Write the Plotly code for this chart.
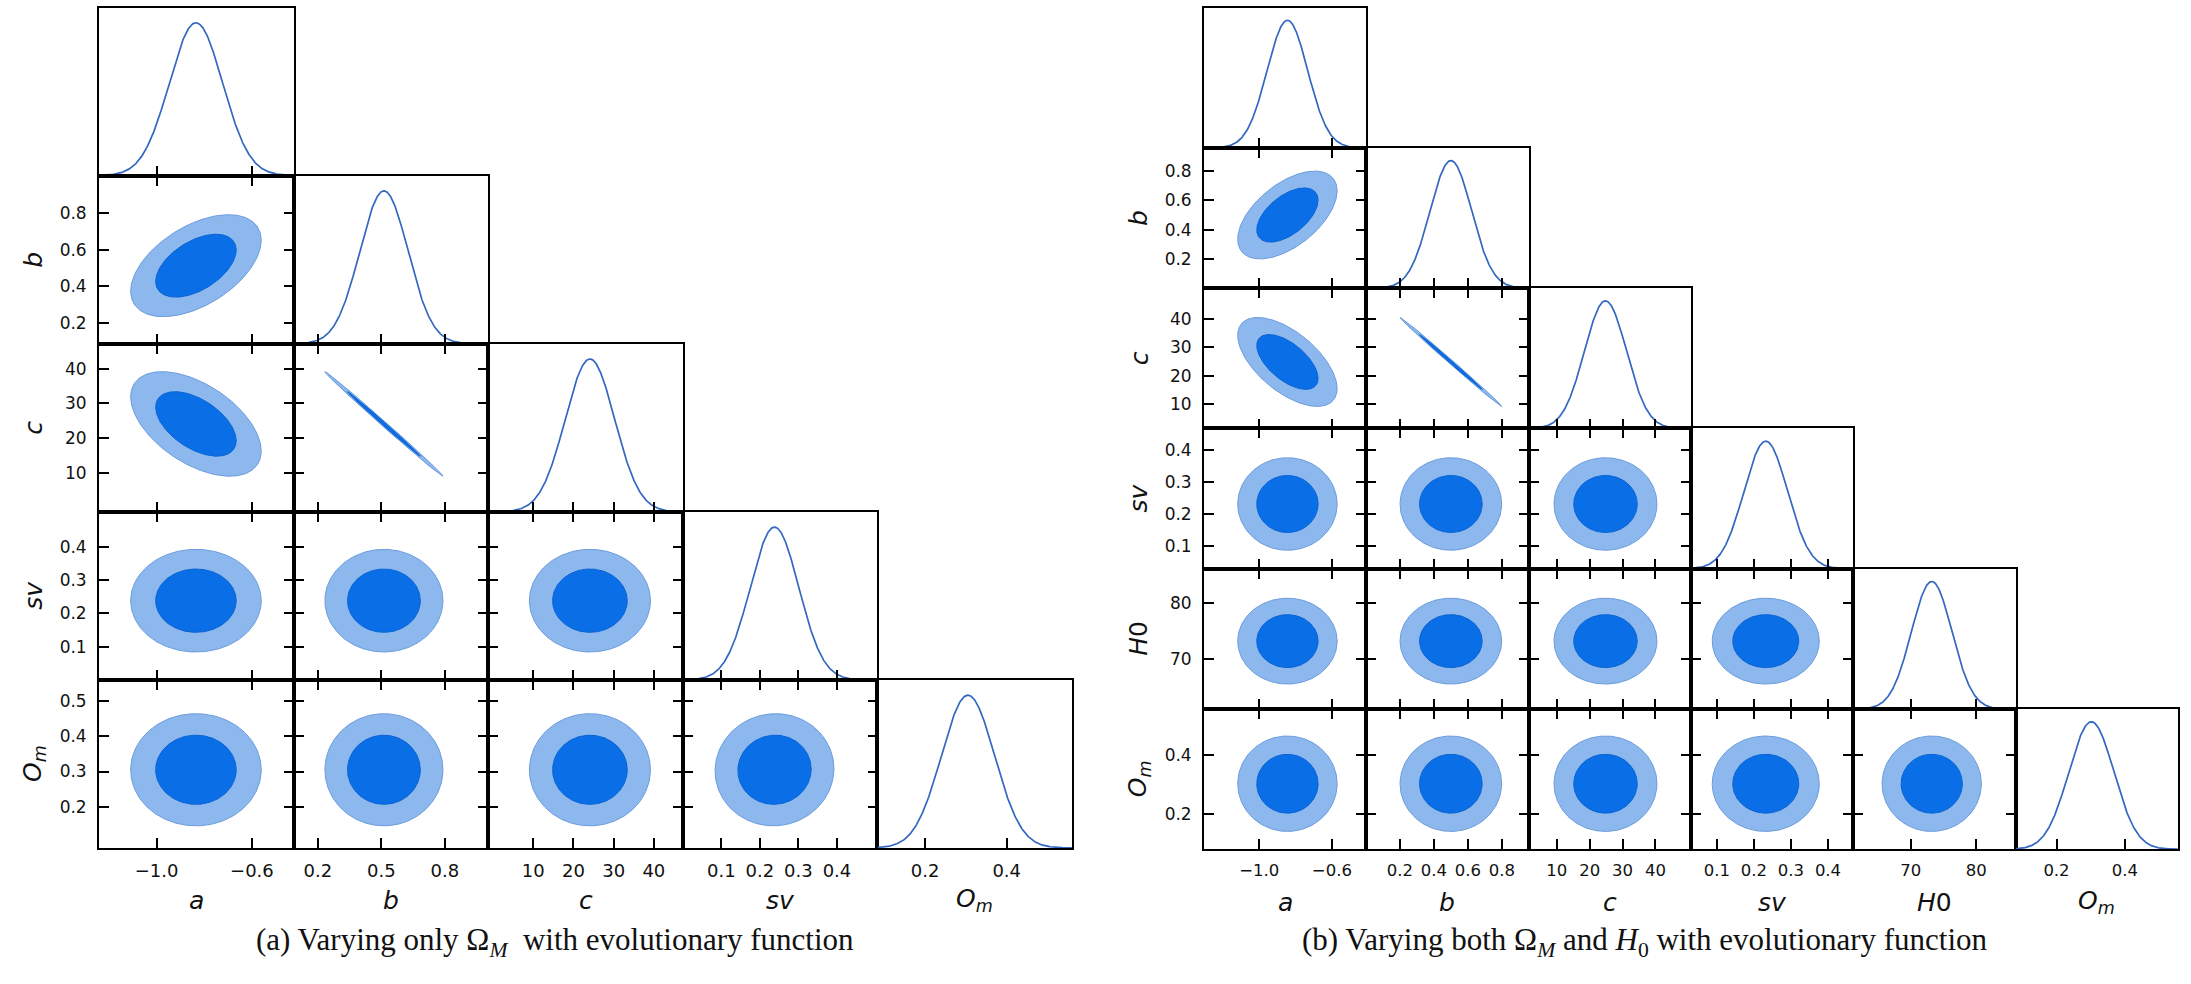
import numpy as np
import plotly.graph_objects as go

W, H = 2191, 984

# ---------------- posterior summaries: (a) varying only Omega_M ----------------
names_a = ["a", "b", "c", "sv", "Om"]
labels_a = ["<i>a</i>", "<i>b</i>", "<i>c</i>", "<i>sv</i>", "<i>O<sub>m</sub></i>"]
mean_a = [-0.835, 0.512, 24.1, 0.238, 0.305]
sigma_a = [0.112, 0.114, 6.15, 0.063, 0.065]
range_a = [[-1.242, -0.425], [0.085, 1.005], [-1.2, 47.2], [0.0, 0.505], [0.083, 0.560]]
xticks_a = [[-1.0, -0.6], [0.2, 0.5, 0.8], [10, 20, 30, 40], [0.1, 0.2, 0.3, 0.4], [0.2, 0.4]]
yticks_a = [[-1.0, -0.6], [0.2, 0.4, 0.6, 0.8], [10, 20, 30, 40], [0.1, 0.2, 0.3, 0.4], [0.2, 0.3, 0.4, 0.5]]
corr_a = {("a", "b"): 0.50, ("a", "c"): -0.52, ("b", "c"): -0.998,
          ("a", "sv"): 0.0, ("b", "sv"): 0.0, ("c", "sv"): 0.0,
          ("a", "Om"): 0.0, ("b", "Om"): 0.0, ("c", "Om"): 0.0, ("sv", "Om"): 0.02}

# ---------------- posterior summaries: (b) varying Omega_M and H0 ----------------
names_b = ["a", "b", "c", "sv", "H0", "Om"]
labels_b = ["<i>a</i>", "<i>b</i>", "<i>c</i>", "<i>sv</i>", "<i>H</i>0", "<i>O<sub>m</sub></i>"]
mean_b = [-0.845, 0.500, 24.8, 0.232, 73.2, 0.302]
sigma_b = [0.112, 0.122, 6.4, 0.059, 3.1, 0.066]
range_b = [[-1.305, -0.410], [0.003, 0.957], [1.4, 50.8], [0.030, 0.468], [61.2, 86.0], [0.080, 0.555]]
xticks_b = [[-1.0, -0.6], [0.2, 0.4, 0.6, 0.8], [10, 20, 30, 40], [0.1, 0.2, 0.3, 0.4], [70, 80], [0.2, 0.4]]
yticks_b = xticks_b
corr_b = {("a", "b"): 0.55, ("a", "c"): -0.60, ("b", "c"): -0.998,
          ("a", "sv"): 0.0, ("b", "sv"): 0.0, ("c", "sv"): 0.0,
          ("a", "H0"): 0.0, ("b", "H0"): 0.0, ("c", "H0"): 0.0, ("sv", "H0"): 0.0,
          ("a", "Om"): 0.0, ("b", "Om"): 0.0, ("c", "Om"): 0.0, ("sv", "Om"): 0.0, ("H0", "Om"): 0.0}

captions = ["(a) Varying only Ω<sub><i>M</i></sub>  with evolutionary function",
            "(b) Varying both Ω<sub><i>M</i></sub> and <i>H</i><sub>0</sub> with evolutionary function"]

# colours
INNER = "#0a6fe6"
INNER_EDGE = "#0a62d2"
OUTER = "#8cb8ee"
OUTER_EDGE = "#6b9bdc"
LINE1D = "#3467c0"
TXT = "#111111"

R68 = np.sqrt(-2 * np.log(1 - 0.68))
R95 = np.sqrt(-2 * np.log(1 - 0.95))
theta = np.linspace(0, 2 * np.pi, 240)
fig = go.Figure()
layout = {}
annotations = []
counter = [0]


def fmt(v):
    s = f"{v:g}"
    if isinstance(v, float) and "." not in s:
        s = f"{v:.1f}"
    return s.replace("-", "−")


def ellipse(mx, my, sx, sy, rho, r):
    x = mx + sx * r * np.cos(theta)
    y = my + sy * r * (rho * np.cos(theta) + np.sqrt(1 - rho ** 2) * np.sin(theta))
    return x, y


def corner(names, labels, means, sigmas, ranges, xticks, yticks, corr,
           x0, y0, cw, ch, tick_fs_x, tick_fs_y, lab_fs, xlab_y, ylab_x):
    n = len(names)
    for i in range(n):          # row
        for j in range(i + 1):  # column
            counter[0] += 1
            k = counter[0]
            xa = "xaxis" if k == 1 else f"xaxis{k}"
            ya = "yaxis" if k == 1 else f"yaxis{k}"
            xr, yr = f"x{k}" if k > 1 else "x", f"y{k}" if k > 1 else "y"
            xd = [(x0 + j * cw) / W, (x0 + (j + 1) * cw) / W]
            yd = [1 - (y0 + (i + 1) * ch) / H, 1 - (y0 + i * ch) / H]
            diag = i == j
            bottom = i == n - 1
            layout[xa] = dict(
                domain=xd, anchor=yr, range=ranges[j], showgrid=False, zeroline=False,
                showline=True, linecolor="black", linewidth=1.8,
                mirror=True if diag else "ticks", ticks="inside", ticklen=10,
                tickwidth=2, tickcolor="black", tickvals=xticks[j],
                ticktext=[fmt(v) for v in xticks[j]], showticklabels=bottom,
                tickfont=dict(family="DejaVu Sans", size=tick_fs_x, color=TXT),
                ticklabelstandoff=5,
            )
            if diag:
                layout[ya] = dict(
                    domain=yd, anchor=xr, range=[0, 1.1], showgrid=False, zeroline=False,
                    showline=True, linecolor="black", linewidth=1.8, mirror=True,
                    ticks="", showticklabels=False,
                )
                lo, hi = ranges[j]
                xs = np.linspace(lo, hi, 400)
                ys = np.exp(-0.5 * ((xs - means[j]) / sigmas[j]) ** 2)
                fig.add_trace(go.Scatter(x=xs, y=ys, mode="lines", xaxis=xr, yaxis=yr,
                                         line=dict(color=LINE1D, width=1.7),
                                         hoverinfo="skip", showlegend=False))
            else:
                layout[ya] = dict(
                    domain=yd, anchor=xr, range=ranges[i], showgrid=False, zeroline=False,
                    showline=True, linecolor="black", linewidth=1.8, mirror="ticks",
                    ticks="inside", ticklen=10, tickwidth=2, tickcolor="black",
                    tickvals=yticks[i], ticktext=[fmt(v) for v in yticks[i]],
                    showticklabels=(j == 0),
                    tickfont=dict(family="DejaVu Sans", size=tick_fs_y, color=TXT),
                    ticklabelstandoff=7,
                )
                key = (names[j], names[i])
                rho = corr.get(key, corr.get((names[i], names[j]), 0.0))
                for r, fc, lc in ((R95, OUTER, OUTER_EDGE), (R68, INNER, INNER_EDGE)):
                    ex, ey = ellipse(means[j], means[i], sigmas[j], sigmas[i], rho, r)
                    fig.add_trace(go.Scatter(x=ex, y=ey, mode="lines", fill="toself",
                                             fillcolor=fc, line=dict(color=lc, width=1),
                                             xaxis=xr, yaxis=yr, hoverinfo="skip",
                                             showlegend=False))
    # axis labels
    for j in range(n):
        annotations.append(dict(x=(x0 + (j + 0.5) * cw) / W, y=1 - xlab_y / H,
                                xref="paper", yref="paper", text=labels[j], showarrow=False,
                                font=dict(family="DejaVu Sans", size=lab_fs, color=TXT),
                                xanchor="center", yanchor="middle"))
    for i in range(1, n):
        annotations.append(dict(x=ylab_x / W, y=1 - (y0 + (i + 0.5) * ch) / H,
                                xref="paper", yref="paper", text=labels[i], showarrow=False,
                                textangle=-90,
                                font=dict(family="DejaVu Sans", size=lab_fs, color=TXT),
                                xanchor="center", yanchor="middle"))


corner(names_a, labels_a, mean_a, sigma_a, range_a, xticks_a, yticks_a, corr_a,
       x0=99, y0=7.5, cw=194.6, ch=168.1, tick_fs_x=18, tick_fs_y=17, lab_fs=25,
       xlab_y=900, ylab_x=34)
corner(names_b, labels_b, mean_b, sigma_b, range_b, xticks_b, yticks_b, corr_b,
       x0=1204, y0=7.5, cw=162.3, ch=140.3, tick_fs_x=16.5, tick_fs_y=17, lab_fs=25,
       xlab_y=902, ylab_x=1139)

for cx, txt in zip([555, 1645], captions):
    annotations.append(dict(x=cx / W, y=1 - 942 / H, xref="paper", yref="paper", text=txt,
                            showarrow=False, xanchor="center", yanchor="middle",
                            font=dict(family="Liberation Serif", size=31, color=TXT)))

fig.update_layout(width=W, height=H, margin=dict(l=0, r=0, t=0, b=0),
                  paper_bgcolor="white", plot_bgcolor="white", annotations=annotations,
                  **layout)
fig.write_html("out.html")
